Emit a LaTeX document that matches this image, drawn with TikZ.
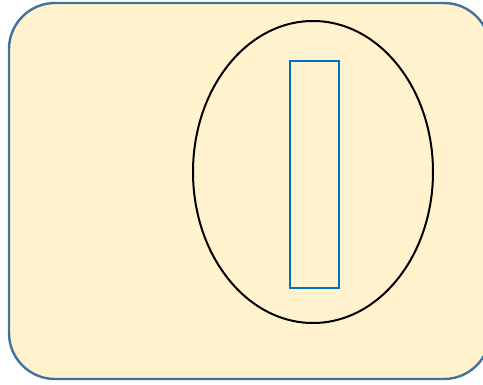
\documentclass[tikz,border=0pt]{standalone}
\usepackage{tikz}
\usetikzlibrary{shapes.geometric}

\definecolor{paleyellow}{HTML}{FFF2CC}
\definecolor{frameblue}{HTML}{41719C}
\definecolor{barblue}{HTML}{0070C0}

\begin{document}
\begin{tikzpicture}[x=1pt,y=-1pt]
        \useasboundingbox (0,0) rectangle (483,385);
        \node (frame) [draw=frameblue, fill=paleyellow, line width=2.4pt,
            rounded corners=46pt, minimum width=481pt, minimum height=376pt,
            inner sep=0pt] at (249.5,191) {};
        \node (oval) [ellipse, draw=black, line width=2pt,
            minimum width=240pt, minimum height=302pt, inner sep=0pt]
            at (313,172) {};
        \node (bar) [draw=barblue, line width=2.2pt,
            minimum width=49pt, minimum height=227pt, inner sep=0pt]
            at (314.5,174.5) {};
    \end{tikzpicture}
\end{document}
